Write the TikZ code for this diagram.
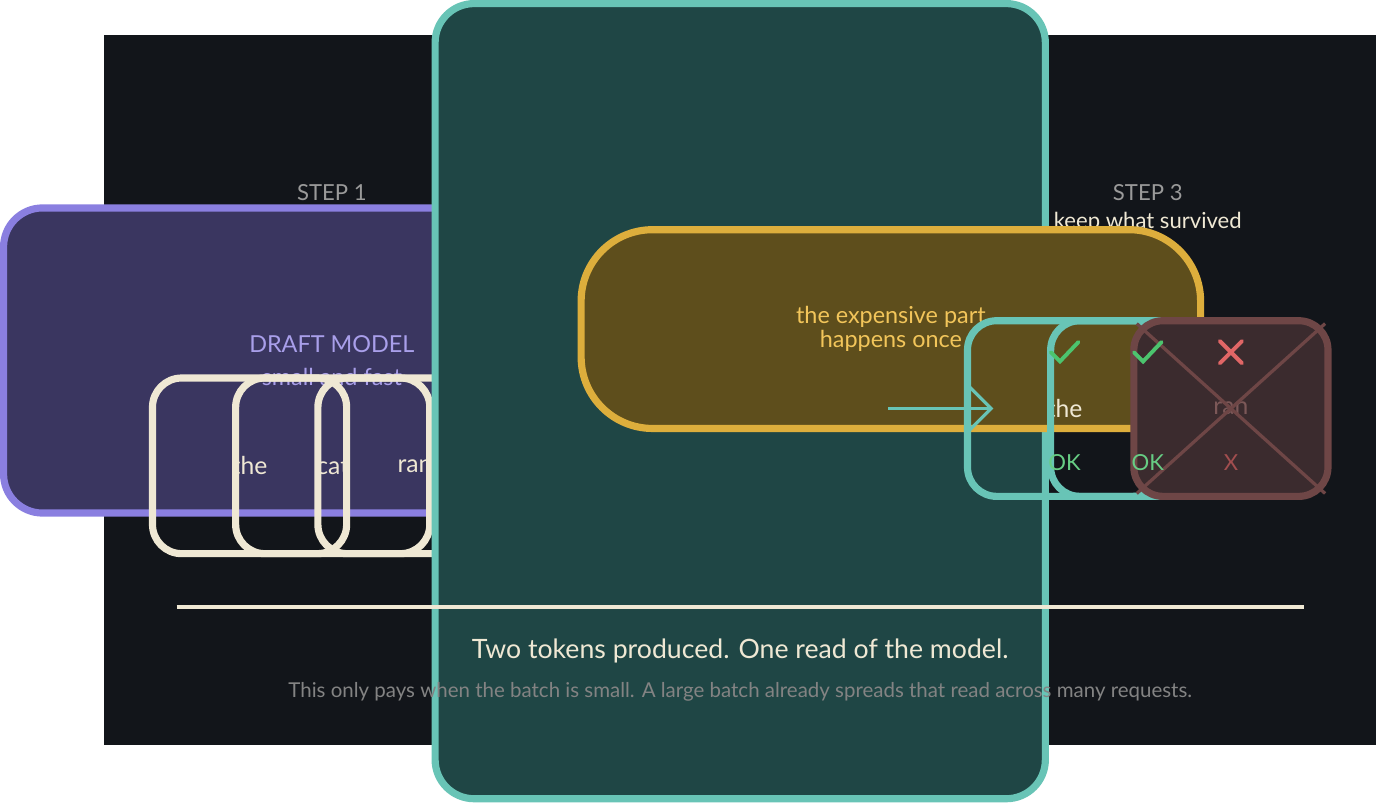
\documentclass[tikz,border=0pt]{standalone}
\usepackage{fontspec}
\setmainfont{Lato}
\usetikzlibrary{positioning,arrows.meta,calc}
\definecolor{bgc}{HTML}{12151A}
\definecolor{cream}{HTML}{EFE8D4}
\definecolor{greyt}{HTML}{9A9A9A}
\definecolor{purp}{HTML}{8A7FE0}
\definecolor{purpfill}{HTML}{3A3660}
\definecolor{purptxt}{HTML}{A99FEA}
\definecolor{teal}{HTML}{68C4B6}
\definecolor{tealfill}{HTML}{1F4645}
\definecolor{tealtxt}{HTML}{8FD3C8}
\definecolor{gold}{HTML}{DDAE3C}
\definecolor{goldfill}{HTML}{5E4E1C}
\definecolor{goldtxt}{HTML}{F2C55A}
\definecolor{okgreen}{HTML}{4CC46E}
\definecolor{badred}{HTML}{E06666}
\definecolor{dimred}{HTML}{6E4646}
\newcommand{\fs}[1]{\fontsize{#1}{#1}\selectfont}
\tikzset{
  token/.style={draw=cream,line width=2.2pt,rounded corners=9pt,minimum width=2.1cm,minimum height=1.9cm,text=cream,font=\fs{7.6pt}},
  okbox/.style={token,draw=teal,text=cream},
  badbox/.style={token,draw=dimred,fill=dimred!45!bgc,text=dimred!90!white},
  stephead/.style={text=greyt,font=\fs{6.8pt}},
  sub/.style={text=cream,font=\fs{6.8pt}},
  flow/.style={draw=teal,line width=1pt,-{Straight Barb[length=7pt,width=14pt]}},
  tick/.style={line width=1.2pt,line cap=round}
}
\begin{document}
\begin{tikzpicture}[x=0.01cm,y=-0.01cm]
\fill[bgc] (0,0) rectangle (1376,768);
\node[text=cream,font=\fs{12pt}] (title) at (690,75) {ONE READ, SEVERAL TOKENS};
% step headings
\node[stephead] (s1) at (246,170) {STEP 1};
\node[sub] (s1b) at (246,202) {the draft model guesses};
\node[stephead] (s2) at (688,170) {STEP 2};
\node[sub] (s2b) at (688,202) {the real model checks all three at once};
\node[stephead] (s3) at (1129,170) {STEP 3};
\node[sub] (s3b) at (1129,202) {keep what survived};
% step 1
\node[draw=purp,fill=purpfill,line width=2.2pt,rounded corners=12pt,minimum width=7.1cm,minimum height=3.3cm,text=purptxt,font=\fs{7.2pt},align=center] (draft) at (246,352) {DRAFT MODEL\\[3pt]small and fast};
\node[token] (t1) at (157,466) {the};
\node[token] (t2) at (247,466) {cat};
\node[token] (t3) at (336,466) {ran};
\draw[flow] (415,404) coordinate (a1) -- (528,404) coordinate (a2);
% step 2
\node[draw=teal,fill=tealfill,line width=2.2pt,rounded corners=12pt,minimum width=6.6cm,minimum height=8.6cm,text=tealtxt,font=\fs{7.2pt},align=center] (full) at (688,396) {FULL MODEL\\[3pt]ONE forward pass};
\node[draw=gold,fill=goldfill,line width=2.2pt,rounded corners=22pt,minimum width=6.7cm,minimum height=2.15cm,text=goldtxt,font=\fs{7.2pt},align=center] (cost) at (851,318) {the expensive part\\happens once};
\draw[flow] (848,404) coordinate (b1) -- (962,404) coordinate (b2);
% step 3
\node[okbox] (k1) at (1039,404) {the};
\node[okbox] (k2) at (1129,404) {cat};
\node[badbox] (k3) at (1219,404) {ran};
\draw[dimred,line width=1pt] ($(k3.north west)+(7,7)$) -- ($(k3.south east)+(-7,-7)$);
\draw[dimred,line width=1pt] ($(k3.north east)+(-7,7)$) -- ($(k3.south west)+(7,-7)$);
\foreach \x in {1039,1129}{
  \draw[tick,okgreen] (\x-15,343) -- (\x-5,353) -- (\x+15,332);
  \node[text=okgreen!85!white,font=\fs{6.8pt}] at (\x,463) {OK};
}
\draw[tick,badred] (1207,331) -- (1231,355) (1231,331) -- (1207,355);
\node[text=badred!70!bgc,font=\fs{6.8pt}] (xl) at (1219,463) {X};
% footer
\draw[cream,line width=1.1pt] (78,619) -- (1298,619);
\node[text=cream,font=\fs{8.2pt}] (sum) at (688,666) {Two tokens produced. One read of the model.};
\node[text=greyt!85!black,font=\fs{6.3pt}] (note) at (688,711) {This only pays when the batch is small. A large batch already spreads that read across many requests.};
\end{tikzpicture}
\end{document}
